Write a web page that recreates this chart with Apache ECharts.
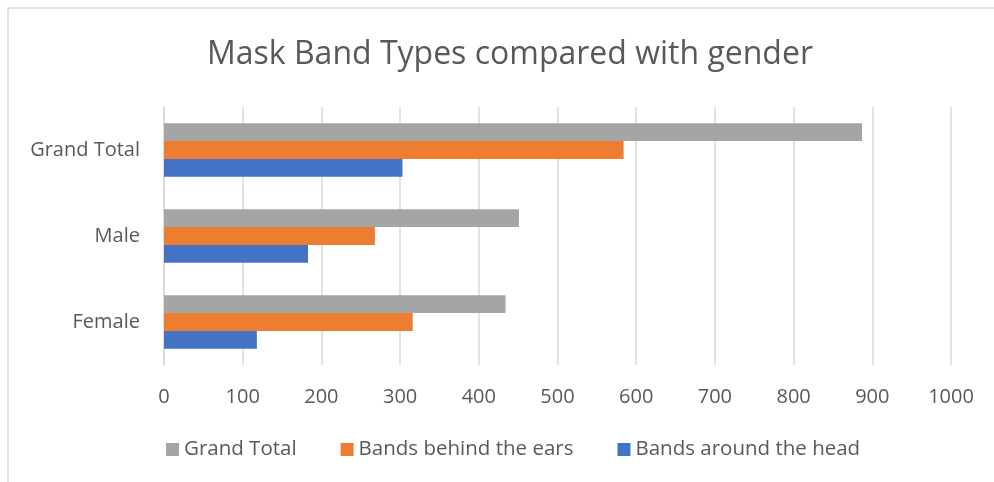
<!DOCTYPE html>
<html>
<head>
<meta charset="utf-8">
<style>
  html, body { margin: 0; padding: 0; background: #ffffff; }
  #chart { width: 994px; height: 482px; }
</style>
<script src="https://cdn.jsdelivr.net/npm/echarts@6/dist/echarts.min.js"></script>
</head>
<body>
<div id="chart"></div>
<script>
// Categories from bottom to top on the vertical axis
const categories = ['Female', 'Male', 'Grand Total'];

// Series values, one per category (Female, Male, Grand Total)
const grandTotal = [434, 451, 887];
const behindEars = [316, 268, 584];
const aroundHead = [118, 183, 303];

const seriesNames = ['Grand Total', 'Bands behind the ears', 'Bands around the head'];
const xTicks = { min: 0, max: 1000, interval: 100 };

const FONT = '"Open Sans", Lato, sans-serif';
const TEXT = '#595959';

const chart = echarts.init(document.getElementById('chart'), null, { renderer: 'canvas' });

const barStyle = { barGap: '0%', barCategoryGap: '38%' };

chart.setOption({
  backgroundColor: '#ffffff',
  animation: false,
  title: {
    text: 'Mask Band Types compared with gender',
    left: 202,
    top: 34,
    textStyle: { fontFamily: FONT, fontSize: 32, fontWeight: 'normal', color: TEXT }
  },
  graphic: [{
    type: 'polyline',
    shape: { points: [[8, 490], [8, 8], [1000, 8]] },
    style: { stroke: '#d9d9d9', lineWidth: 1.5, fill: null },
    silent: true
  }],
  legend: {
    data: seriesNames,
    bottom: 17,
    left: 161,
    itemWidth: 13,
    itemHeight: 13,
    itemGap: 44,
    icon: 'rect',
    textStyle: { fontFamily: FONT, fontSize: 20.5, color: TEXT }
  },
  grid: { left: 164, right: 43, top: 107, bottom: 117 },
  xAxis: {
    type: 'value',
    min: xTicks.min,
    max: xTicks.max,
    interval: xTicks.interval,
    axisLine: { show: false },
    axisTick: { show: false },
    axisLabel: { fontFamily: FONT, fontSize: 20, color: TEXT, margin: 22, formatter: v => String(v) },
    splitLine: { lineStyle: { color: '#d9d9d9', width: 1.5 } }
  },
  yAxis: {
    type: 'category',
    data: categories,
    axisLine: { show: true, lineStyle: { color: '#d9d9d9', width: 1.5 } },
    axisTick: { show: false },
    axisLabel: { fontFamily: FONT, fontSize: 20, color: TEXT, margin: 24 }
  },
  // Series listed top-to-bottom within each category band
  series: [
    Object.assign({ name: 'Grand Total', type: 'bar', data: grandTotal, itemStyle: { color: '#a5a5a5' } }, barStyle),
    Object.assign({ name: 'Bands behind the ears', type: 'bar', data: behindEars, itemStyle: { color: '#ed7d31' } }, barStyle),
    Object.assign({ name: 'Bands around the head', type: 'bar', data: aroundHead, itemStyle: { color: '#4472c4' } }, barStyle)
  ]
});
</script>
</body>
</html>
